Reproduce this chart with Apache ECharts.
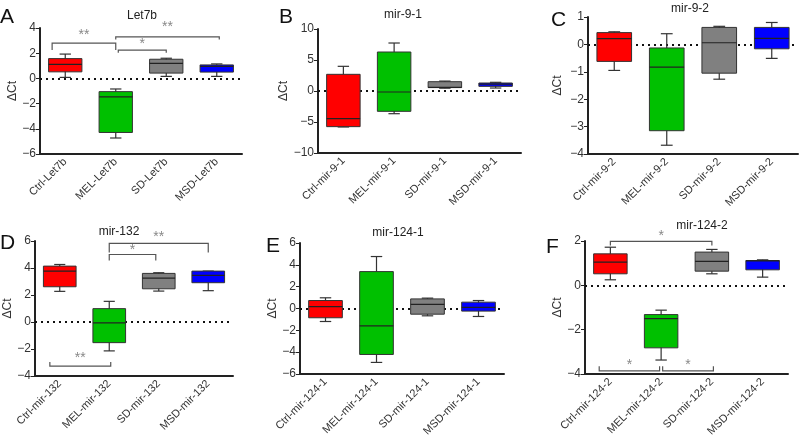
<!DOCTYPE html>
<html>
<head>
<meta charset="utf-8">
<script src="https://cdn.jsdelivr.net/npm/echarts@6/dist/echarts.min.js"></script>
<style>
html, body { margin: 0; background: #fff; }
#main { width: 800px; height: 440px; }
</style>
</head>
<body>
<div id="main"></div>
<script>
// groups on every x axis
var groups = ['Ctrl', 'MEL', 'SD', 'MSD'];
var genes = ['Let7b', 'mir-9-1', 'mir-9-2', 'mir-132', 'mir-124-1', 'mir-124-2'];
var letters = ['A', 'B', 'C', 'D', 'E', 'F'];

// box stats per group: [low whisker, Q1, median, Q3, high whisker]
var boxLet7b = [[0.08, 0.52, 1.12, 1.57, 1.93], [-4.73, -4.29, -1.46, -1.05, -0.84], [0.16, 0.42, 1.2, 1.52, 1.6], [0.16, 0.5, 0.95, 1.07, 1.15]];
var boxMir91 = [[-5.8, -5.75, -4.46, 2.69, 3.98], [-3.66, -3.28, -0.16, 6.29, 7.74], [0.45, 0.55, 0.6, 1.5, 1.6], [0.48, 0.75, 1.1, 1.29, 1.4]];
var boxMir92 = [[-0.95, -0.62, 0.21, 0.43, 0.46], [-3.68, -3.15, -0.83, -0.13, 0.39], [-1.27, -1.05, 0.06, 0.62, 0.66], [-0.51, -0.16, 0.22, 0.62, 0.8]];
var boxMir132 = [[2.27, 2.61, 3.77, 4.14, 4.26], [-2.14, -1.53, -0.07, 0.99, 1.53], [2.29, 2.46, 3.25, 3.6, 3.65], [2.32, 2.91, 3.45, 3.77, 3.77]];
var boxMir1241 = [[-1.19, -0.85, 0.18, 0.73, 0.98], [-4.94, -4.21, -1.59, 3.38, 4.76], [-0.67, -0.52, 0.37, 0.88, 0.95], [-0.73, -0.24, 0.1, 0.58, 0.73]];
var boxMir1242 = [[0.25, 0.52, 1.05, 1.42, 1.72], [-3.37, -2.82, -1.5, -1.32, -1.12], [0.52, 0.64, 1.08, 1.5, 1.62], [0.37, 0.7, 1.1, 1.12, 1.15]];
var boxSets = [boxLet7b, boxMir91, boxMir92, boxMir132, boxMir1241, boxMir1242];

// y axis ranges
var yMin = [-6, -10, -4, -4, -6, -4];
var yMax = [4, 10, 1, 6, 6, 2];
var yStep = [2, 5, 1, 2, 2, 2];

// significance brackets: [from group, to group, line y, end-tick y, label y, label]
var sigLet7b = [[-0.26, 1, 2.8, 2.25, 3.4, '**'], [1.05, 2, 2.25, 2.04, 2.7, '*'], [1, 3.05, 3.29, 3.09, 4.05, '**']];
var sigMir132 = [[1, 3, 5.82, 5.15, 6.3, '**'], [1, 1.94, 5.0, 4.56, 5.3, '*'], [-0.2, 1.03, -3.27, -2.96, -2.65, '**']];
var sigMir1242 = [[0, 2, 1.98, 1.8, 2.2, '*'], [-0.22, 0.97, -3.86, -3.65, -3.6, '*'], [1.03, 2.03, -3.86, -3.65, -3.6, '*']];
var sigSets = [sigLet7b, [], [], sigMir132, [], sigMir1242];

var boxColors = ['#ff0000', '#00c000', '#808080', '#0000ff'];

// layout of the six panels
var panels = [
    { left: 40, top: 28, width: 202, height: 126, nameGap: 18, title: [142, 16], letter: [0, 17] },
    { left: 318, top: 29, width: 203, height: 124, nameGap: 21, title: [403, 15], letter: [279, 17] },
    { left: 588, top: 17, width: 210, height: 137, nameGap: 24, title: [690, 9], letter: [551, 20] },
    { left: 35, top: 241, width: 198, height: 135, nameGap: 15, title: [119, 232], letter: [0, 243] },
    { left: 300, top: 243, width: 204, height: 131, nameGap: 19, title: [398, 233], letter: [266, 246] },
    { left: 585, top: 241, width: 203, height: 133, nameGap: 17, title: [702, 226], letter: [546, 247] }
];

var FONT = 'Liberation Sans, Arial, sans-serif';

function boxRenderer(params, api) {
    var x = api.value(0);
    var lo = api.coord([x, api.value(1)]);
    var q1 = api.coord([x, api.value(2)]);
    var md = api.coord([x, api.value(3)]);
    var q3 = api.coord([x, api.value(4)]);
    var hi = api.coord([x, api.value(5)]);
    var bw = api.size([1, 0])[0] * 0.66;
    var cw = bw * 0.34;
    var cx = lo[0];
    var ls = { stroke: '#333', lineWidth: 1.2 };
    return {
        type: 'group',
        children: [
            { type: 'line', shape: { x1: cx, y1: hi[1], x2: cx, y2: lo[1] }, style: ls },
            { type: 'line', shape: { x1: cx - cw / 2, y1: hi[1], x2: cx + cw / 2, y2: hi[1] }, style: ls },
            { type: 'line', shape: { x1: cx - cw / 2, y1: lo[1], x2: cx + cw / 2, y2: lo[1] }, style: ls },
            { type: 'rect', shape: { x: cx - bw / 2, y: q3[1], width: bw, height: q1[1] - q3[1] },
              style: { fill: boxColors[params.dataIndex], stroke: '#333', lineWidth: 1 } },
            { type: 'line', shape: { x1: cx - bw / 2, y1: md[1], x2: cx + bw / 2, y2: md[1] }, style: { stroke: '#222', lineWidth: 1.2 } }
        ]
    };
}

function makeSigRenderer(list) {
    return function (params, api) {
        var s = list[params.dataIndex];
        var band = api.size([1, 0])[0];
        var base = api.coord([0, s[2]]);
        var x1 = base[0] + s[0] * band;
        var x2 = base[0] + s[1] * band;
        var yl = base[1];
        var yt = api.coord([0, s[3]])[1];
        var ytx = api.coord([0, s[4]])[1];
        return {
            type: 'group',
            children: [
                { type: 'polyline', shape: { points: [[x1, yt], [x1, yl], [x2, yl], [x2, yt]] },
                  style: { stroke: '#555', lineWidth: 1.2, fill: null } },
                { type: 'text', x: (x1 + x2) / 2, y: ytx,
                  style: { text: s[5], fill: '#888', font: '14px ' + FONT, align: 'center', verticalAlign: 'middle' } }
            ]
        };
    };
}

var grids = [], xAxes = [], yAxes = [], series = [], graphics = [];

panels.forEach(function (p, i) {
    grids.push({ left: p.left, top: p.top, width: p.width, height: p.height });
    xAxes.push({
        gridIndex: i,
        type: 'category',
        data: groups.map(function (g) { return g + '-' + genes[i]; }),
        axisLine: { onZero: false, lineStyle: { color: '#222', width: 2 } },
        axisTick: { alignWithLabel: true, length: 4, lineStyle: { color: '#222' } },
        axisLabel: { rotate: 45, interval: 0, fontSize: 11, color: '#333', margin: 6, fontFamily: FONT }
    });
    yAxes.push({
        gridIndex: i,
        type: 'value',
        min: yMin[i],
        max: yMax[i],
        interval: yStep[i],
        splitLine: { show: false },
        axisLine: { show: true, lineStyle: { color: '#222', width: 2 } },
        axisTick: { show: true, length: 4, lineStyle: { color: '#222' } },
        axisLabel: { fontSize: 12, color: '#333', margin: 4, fontFamily: FONT,
            formatter: function (v) { return String(v).replace('-', '\u2212'); } },
        name: '\u0394Ct',
        nameLocation: 'middle',
        nameGap: p.nameGap,
        nameTextStyle: { fontSize: 12, color: '#333', fontFamily: FONT }
    });
    series.push({
        type: 'custom',
        xAxisIndex: i,
        yAxisIndex: i,
        z: 3,
        encode: { x: 0, y: [1, 2, 3, 4, 5] },
        renderItem: boxRenderer,
        data: boxSets[i].map(function (b, k) { return [k].concat(b); }),
        markLine: {
            silent: true,
            symbol: 'none',
            z: 1,
            label: { show: false },
            lineStyle: { type: [2, 4], color: '#111', width: 2 },
            data: [{ yAxis: 0 }]
        }
    });
    if (sigSets[i].length) {
        series.push({
            type: 'custom',
            xAxisIndex: i,
            yAxisIndex: i,
            z: 4,
            clip: false,
            renderItem: makeSigRenderer(sigSets[i]),
            data: sigSets[i].map(function (s) { return [0, s[2]]; })
        });
    }
    graphics.push({
        type: 'text', x: p.title[0], y: p.title[1],
        style: { text: genes[i], font: '12px ' + FONT, fill: '#222', align: 'center', verticalAlign: 'middle' }
    });
    graphics.push({
        type: 'text', x: p.letter[0], y: p.letter[1],
        style: { text: letters[i], font: '21px ' + FONT, fill: '#111', align: 'left', verticalAlign: 'middle' }
    });
});

var myChart = echarts.init(document.getElementById('main'));
myChart.setOption({
    animation: false,
    grid: grids,
    xAxis: xAxes,
    yAxis: yAxes,
    series: series,
    graphic: graphics
});
</script>
</body>
</html>
